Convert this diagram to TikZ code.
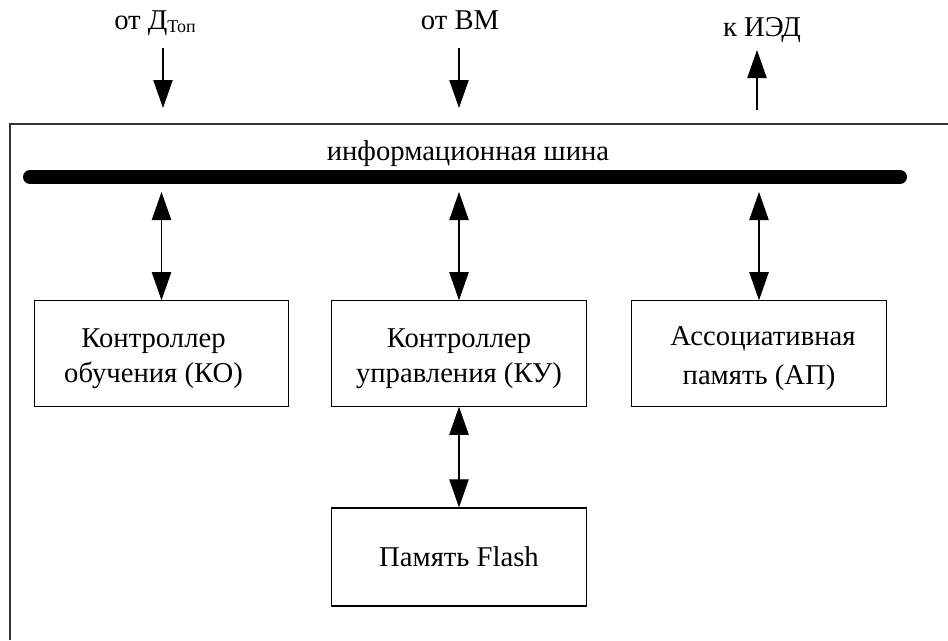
\documentclass[tikz,border=0pt]{standalone}
\usepackage{fontspec}
\setmainfont{Liberation Serif}
\usetikzlibrary{arrows.meta}
\tikzset{
  box/.style={draw, line width=0.9pt, minimum width=191pt, minimum height=79pt, align=center, inner sep=0pt, font=\fontsize{21.5}{26}\selectfont},
  lbl/.style={font=\fontsize{21.5}{25}\selectfont, inner sep=0pt},
  tip/.style={-{Triangle[width=14.5pt,length=21pt]}, line width=0.8pt},
  bitip/.style={{Triangle[width=14.5pt,length=21pt]}-{Triangle[width=14.5pt,length=21pt]}, line width=0.8pt},
  bus/.style={line width=10.5pt, line cap=round}
}
\newcommand{\topstrut}{\rule{0pt}{22pt}}
\begin{document}
\begin{tikzpicture}[x=0.75pt,y=-0.75pt]
\useasboundingbox (0,0) rectangle (948,640);
% frame (only top and left edges visible)
\draw[line width=0.9pt, draw=black!80] (10,640) -- (10,124) -- (948,124);
% top labels
\node[lbl, anchor=base] (ld) at (155,29) {от Д\raisebox{-0.3ex}{\fontsize{13.5}{16}\selectfont Топ}};
\node[lbl, anchor=base] (lv) at (460,29) {от ВМ};
\node[lbl, anchor=base] (li) at (762,36) {к ИЭД};
% top arrows
\coordinate (d1) at (163,48);  \coordinate (d2) at (163,108);
\coordinate (v1) at (459,48);  \coordinate (v2) at (459,108);
\coordinate (i1) at (757,110); \coordinate (i2) at (757,50);
\draw[tip] (d1) -- (d2);
\draw[tip] (v1) -- (v2);
\draw[tip] (i1) -- (i2);
% bus
\coordinate (busL) at (30,177); \coordinate (busR) at (900,177);
\draw[bus] (busL) -- (busR);
\node[lbl, anchor=base] (busname) at (468,160) {информационная шина};
\coordinate (b1) at (161.5,192);
\coordinate (b2) at (459,192);
\coordinate (b3) at (759,192);
% boxes
\node[box] (ko) at (161.5,353.5) {\topstrut Контроллер\hspace*{12pt}\\обучения (КО)\hspace*{12pt}};
\node[box] (ku) at (459,353.5) {\topstrut Контроллер\\управления (КУ)};
\node[box, font=\fontsize{21.5}{29}\selectfont] (ap) at (759,353.5) {\topstrut\hspace*{6pt}Ассоциативная\\память (АП)};
\node[box, minimum height=73.5pt] (fl) at (459,557) {Память Flash};
% connectors
\draw[bitip] (b1) -- (ko.north);
\draw[bitip] (b2) -- (ku.north);
\draw[bitip] (b3) -- (ap.north);
\draw[bitip] (ku.south) -- (fl.north);
\end{tikzpicture}
\end{document}
